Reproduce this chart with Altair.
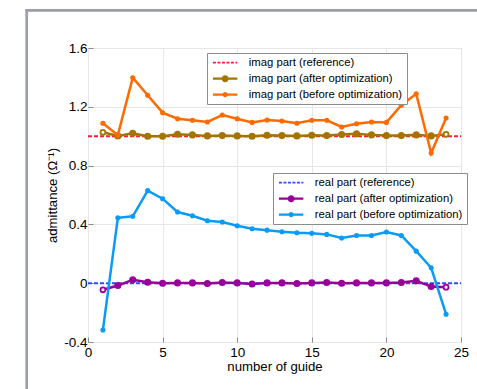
import altair as alt
import pandas as pd

# ---------------- data ----------------
guide = list(range(1, 25))
imag_before = [1.088, 1.007, 1.398, 1.279, 1.160, 1.119, 1.108, 1.097, 1.144, 1.119, 1.094, 1.110,
               1.103, 1.088, 1.108, 1.108, 1.063, 1.085, 1.097, 1.094, 1.211, 1.288, 0.885, 1.124]
imag_after = [1.027, 1.002, 1.020, 1.000, 1.000, 1.013, 1.009, 1.002, 1.004, 1.002, 1.000, 1.007,
              1.004, 1.002, 1.007, 1.004, 1.011, 1.016, 1.009, 1.004, 1.004, 1.009, 1.002, 1.013]
real_before = [-0.318, 0.445, 0.455, 0.630, 0.575, 0.484, 0.459, 0.425, 0.416, 0.391, 0.370, 0.361,
               0.350, 0.343, 0.339, 0.332, 0.307, 0.325, 0.325, 0.348, 0.325, 0.218, 0.105, -0.211]
real_after = [-0.045, -0.016, 0.023, 0.007, 0.000, 0.002, 0.002, -0.002, 0.005, 0.002, -0.005, 0.002,
              0.002, -0.002, 0.002, 0.005, 0.000, 0.002, 0.002, 0.002, 0.005, 0.016, -0.023, -0.027]
ref_x = [0, 25]
imag_ref = [1, 1]
real_ref = [0, 0]
hollow_guides = [1, 24]

imag_names = ["imag part (reference)", "imag part (after optimization)", "imag part (before optimization)"]
real_names = ["real part (reference)", "real part (after optimization)", "real part (before optimization)"]
imag_colors = ["#ff1a3c", "#a37400", "#ff6a00"]
real_colors = ["#2e4dff", "#990099", "#0a9bf5"]

x_ticks = [0, 5, 10, 15, 20, 25]
y_ticks = [-0.4, -0.2, 0, 0.2, 0.4, 0.6, 0.8, 1, 1.2, 1.4, 1.6]

FONT = "Liberation Sans"
GRID = "#e6e6e6"
BOXC = "#8c8c8c"

xs = alt.Scale(domain=[0, 25], nice=False, zero=False)
ys = alt.Scale(domain=[-0.4, 1.6], nice=False, zero=False)

x_axis = alt.Axis(values=x_ticks, grid=True, gridColor=GRID, domain=False, tickColor=BOXC,
                  tickSize=alt.ExprRef("-5"), labelPadding=8, labelFont=FONT, labelFontSize=13.5,
                  labelColor="black", title="number of guide", titleFont=FONT, titleFontSize=13.2,
                  titleFontWeight="normal", titleColor="black", titlePadding=2, labelFlush=False,
                  labelOverlap=False)
y_axis = alt.Axis(values=y_ticks, grid=True, gridColor=GRID, domain=False, tickColor=BOXC,
                  tickSize=alt.ExprRef("-5"), labelPadding=6, labelFont=FONT, labelFontSize=13.5,
                  labelColor="black", labelExpr="'' + round(datum.value*10)/10",
                  title="admittance (Ω⁻¹)", titleFont=FONT, titleFontSize=13.2,
                  titleFontWeight="normal", titleColor="black", titleX=-29, titleY=147,
                  labelFlush=False, labelOverlap=False)

# legend symbol paths (filled shapes, unit = sqrt(symbolSize)/2 px)
HALF = 4.07
THK = 0.36


def rect(x0, x1, h):
    return f"M{x0:.2f},{-h:.2f}H{x1:.2f}V{h:.2f}H{x0:.2f}Z"


def dashed_path():
    parts, x = [], -HALF
    while x < HALF:
        parts.append(rect(x, min(x + 1.0, HALF), THK * 0.8))
        x += 1.5
    return "".join(parts)


def dot_path(r):
    return rect(-HALF, HALF, THK) + f"M{r},0A{r},{r} 0 1 1 -{r},0A{r},{r} 0 1 1 {r},0Z"


legend_shapes = [dashed_path(), dot_path(1.17), dot_path(0.85)]


def make_legend(lx, ly):
    return alt.Legend(
        title=None, orient="none", legendX=lx, legendY=ly, direction="vertical",
        padding=4, strokeColor=BOXC, fillColor="white", cornerRadius=0,
        labelFont=FONT, labelFontSize=11.3, labelColor="black", labelLimit=400,
        rowPadding=4, symbolSize=36, symbolStrokeWidth=0, symbolOffset=8.5, labelOffset=18,
        symbolOpacity=1,
    )


def xy():
    return dict(x=alt.X("x:Q", scale=xs), y=alt.Y("y:Q", scale=ys))


def series_layers(names, colors, ref_vals, after_vals, before_vals, legend):
    ref_df = pd.DataFrame({"x": ref_x, "y": ref_vals})
    after_df = pd.DataFrame({"x": guide, "y": after_vals})
    before_df = pd.DataFrame({"x": guide, "y": before_vals})
    hollow_df = after_df[after_df["x"].isin(hollow_guides)]
    key_df = pd.DataFrame({"x": [ref_x[0]] * 3, "y": [ref_vals[0]] * 3, "series": names})

    key = alt.Chart(key_df).mark_point(filled=True, opacity=0).encode(
        **xy(),
        color=alt.Color("series:N", scale=alt.Scale(domain=names, range=colors), legend=legend),
        shape=alt.Shape("series:N", scale=alt.Scale(domain=names, range=legend_shapes), legend=legend),
    )
    ref = alt.Chart(ref_df).mark_line(color=colors[0], strokeDash=[4, 2], strokeWidth=2).encode(**xy())
    after_line = alt.Chart(after_df).mark_line(color=colors[1], strokeWidth=2.5).encode(**xy())
    after_pts = alt.Chart(after_df[~after_df["x"].isin(hollow_guides)]).mark_circle(
        color=colors[1], size=50, opacity=1).encode(**xy())
    after_hollow = alt.Chart(hollow_df).mark_point(
        shape="circle", filled=True, fill="white", stroke=colors[1], strokeWidth=1.8,
        size=24, opacity=1).encode(**xy())
    before_line = alt.Chart(before_df).mark_line(color=colors[2], strokeWidth=2.5).encode(**xy())
    before_pts = alt.Chart(before_df).mark_circle(color=colors[2], size=26, opacity=1).encode(**xy())
    return [key, ref, after_line, after_pts, after_hollow, before_line, before_pts]


grid_layer = alt.Chart(pd.DataFrame({"x": ref_x, "y": [-0.4, 1.6]})).mark_point(opacity=0).encode(
    x=alt.X("x:Q", scale=xs, axis=x_axis), y=alt.Y("y:Q", scale=ys, axis=y_axis))

imag_layers = series_layers(imag_names, imag_colors, imag_ref, imag_after, imag_before, make_legend(119, 5))
real_layers = series_layers(real_names, real_colors, real_ref, real_after, real_before, make_legend(185, 125))

frame_df = pd.DataFrame({"a": [0]})
frame_left = alt.Chart(frame_df).mark_rule(color="#9ba0a6", strokeWidth=2.7).encode(
    x=alt.value(-61.3), y=alt.value(-39), y2=alt.value(345))
frame_top = alt.Chart(frame_df).mark_rule(color="#9ba0a6", strokeWidth=2.7).encode(
    x=alt.value(-62.6), x2=alt.value(389), y=alt.value(-37.7))

chart = alt.layer(grid_layer, *imag_layers, *real_layers, frame_left, frame_top).resolve_scale(
    color="independent", shape="independent"
).properties(
    width=373, height=294,
    autosize=alt.AutoSizeParams(type="none"),
    padding={"left": 88, "top": 48, "right": 16, "bottom": 47},
    background="white",
).configure_view(stroke=BOXC, strokeWidth=1)

chart.save("out.html", embed_options={"renderer": "svg", "actions": False})
